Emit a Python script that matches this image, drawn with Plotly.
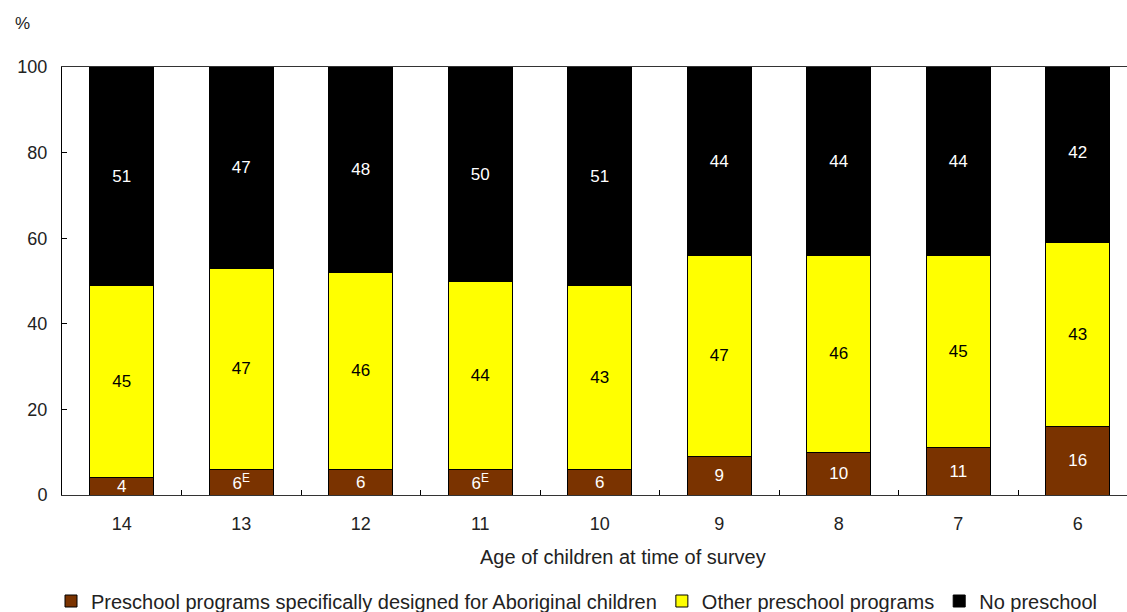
import plotly.graph_objects as go

ages = ["14", "13", "12", "11", "10", "9", "8", "7", "6"]
aboriginal = [4, 6, 6, 6, 6, 9, 10, 11, 16]
aboriginal_labels = ["4", "6<sup>E</sup>", "6", "6<sup>E</sup>", "6", "9", "10", "11", "16"]
other = [45, 47, 46, 44, 43, 47, 46, 45, 43]
none_ = [51, 47, 48, 50, 51, 44, 44, 44, 42]

series = [
    ("Preschool programs specifically designed for Aboriginal children", aboriginal, aboriginal_labels, "#7a3300", "white"),
    ("Other preschool programs", other, [str(v) for v in other], "#ffff00", "black"),
    ("No preschool", none_, [str(v) for v in none_], "#000000", "white"),
]

FONT = "Liberation Sans, Arial, sans-serif"
W, H = 1127, 612
L, R, T, B = 62, 0, 67, 117
PW, PH = W - L - R, H - T - B

fig = go.Figure()
for name, vals, labels, color, tcolor in series:
    fig.add_trace(go.Bar(
        x=ages, y=vals, name=name, text=labels,
        textposition="inside", insidetextanchor="middle", textangle=0,
        constraintext="none",
        insidetextfont=dict(color=tcolor, size=17, family=FONT),
        marker=dict(color=color, line=dict(color="black", width=1)),
        width=0.535, hoverinfo="skip",
    ))

fig.update_layout(
    barmode="stack",
    width=W, height=H,
    margin=dict(l=L, r=R, t=T, b=B, autoexpand=False),
    plot_bgcolor="white", paper_bgcolor="white",
    font=dict(family=FONT, size=18, color="#222222"),
    showlegend=True,
    legend=dict(orientation="h", x=-11 / PW, xanchor="left", y=(495 - 601) / PH, yanchor="middle",
                font=dict(size=20, color="#222222"), itemwidth=30, traceorder="normal"),
    xaxis=dict(type="category", range=[-0.5, 8.412], showline=True, linecolor="#333333",
               linewidth=1, mirror=True, ticks="inside", tickson="boundaries", ticklen=5,
               tickcolor="black", showgrid=False, ticklabelstandoff=12, automargin=False,
               tickfont=dict(size=18)),
    yaxis=dict(range=[0, 100], dtick=20, showline=True, linecolor="black", linewidth=1,
               ticks="inside", ticklen=5, tickcolor="black", showgrid=False, zeroline=False,
               ticklabelstandoff=10, automargin=False, tickfont=dict(size=18)),
    annotations=[
        dict(text="%", x=(22 - L) / PW, y=(495 - 23) / PH, xref="paper", yref="paper",
             showarrow=False, xanchor="center", yanchor="middle", font=dict(size=17)),
        dict(text="Age of children at time of survey", x=(623 - L) / PW, y=(495 - 557) / PH,
             xref="paper", yref="paper", showarrow=False, xanchor="center", yanchor="middle",
             font=dict(size=20)),
    ],
)
fig.write_html("out.html")
